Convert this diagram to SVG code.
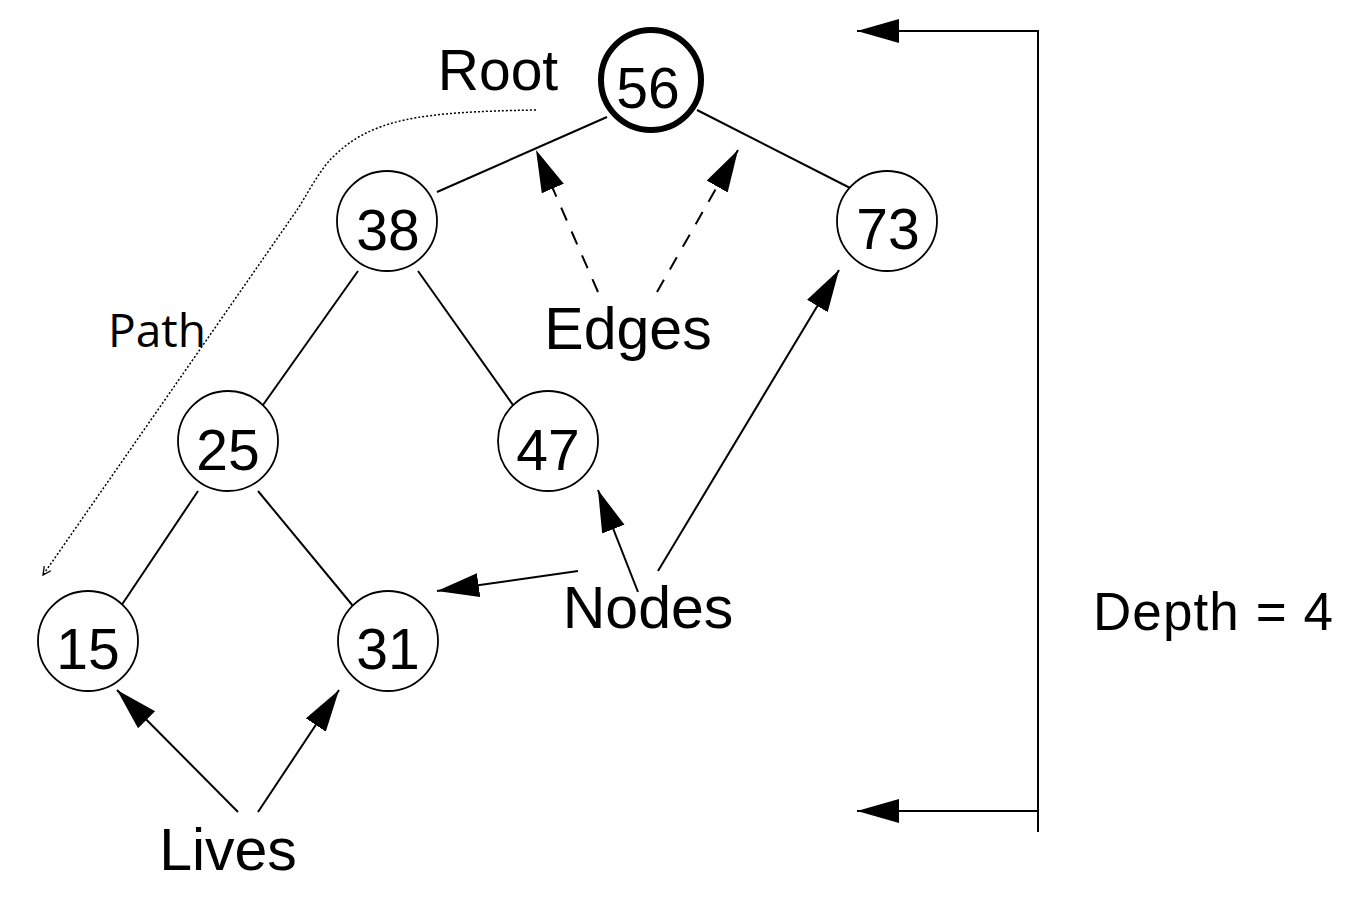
<svg xmlns="http://www.w3.org/2000/svg" width="1359" height="897" viewBox="0 0 1359 897">
<defs>
<style>
.n{fill:#fff;stroke:#000;stroke-width:1.8}
.root{fill:#fff;stroke:#000;stroke-width:6}
.t{font-family:"Liberation Sans",Arial,sans-serif;font-size:57px;fill:#000;text-anchor:middle}
.l{font-size:59px}
.e{stroke:#000;stroke-width:2;fill:none}
.a{stroke:#000;stroke-width:2;fill:none;marker-end:url(#ah)}
.d{stroke:#000;stroke-width:2;fill:none;stroke-dasharray:14 12;marker-end:url(#ah)}
.p{stroke:#000;stroke-width:1.5;fill:none;stroke-dasharray:2 2;marker-end:url(#sm)}
</style>
<marker id="ah" markerUnits="userSpaceOnUse" markerWidth="44" markerHeight="26" refX="42" refY="12" orient="auto" viewBox="0 0 44 26">
<path d="M0,0 L42,12 L0,24 z" fill="#000"/>
</marker>
<marker id="sm" markerUnits="userSpaceOnUse" markerWidth="12" markerHeight="12" refX="9" refY="5" orient="auto" viewBox="0 0 12 12">
<path d="M1,1 L9,5 L1,9" fill="none" stroke="#000" stroke-width="1.3"/>
</marker>
</defs>
<rect width="1359" height="897" fill="#fff"/>
<g id="connectors">
<line class="e" x1="607" y1="117" x2="437" y2="192"/>
<line class="e" x1="697" y1="110" x2="858" y2="192"/>
<line class="e" x1="358" y1="271" x2="258" y2="412"/>
<line class="e" x1="418" y1="271" x2="518" y2="412"/>
<line class="e" x1="198" y1="491" x2="117" y2="612"/>
<line class="e" x1="258" y1="491" x2="358" y2="612"/>
<line class="d" x1="598" y1="292" x2="536" y2="150"/>
<line class="d" x1="657" y1="292" x2="738" y2="150"/>
<line class="a" x1="578" y1="571" x2="437" y2="591"/>
<line class="a" x1="638" y1="592" x2="598" y2="490"/>
<line class="a" x1="658" y1="571" x2="839" y2="270"/>
<line class="a" x1="238" y1="812" x2="117" y2="690"/>
<line class="a" x1="258" y1="812" x2="339" y2="690"/>
<polyline class="a" points="1038,832 1038,31 857,31"/>
<line class="a" x1="1038" y1="811" x2="857" y2="811"/>
<path class="p" d="M536,110 C420,112 370,118 330,160 C318,173 305,198 297,210 L43,575"/>
</g>
<g id="node-56"><circle class="root" cx="651" cy="80" r="50"/><text class="t" x="648" y="108">56</text></g>
<g id="node-38"><circle class="n" cx="387" cy="221" r="50"/><text class="t" x="388" y="250">38</text></g>
<g id="node-73"><circle class="n" cx="887" cy="221" r="50"/><text class="t" x="888" y="249">73</text></g>
<g id="node-25"><circle class="n" cx="228" cy="441" r="50"/><text class="t" x="228" y="470">25</text></g>
<g id="node-47"><circle class="n" cx="548" cy="441" r="50"/><text class="t" x="548" y="470">47</text></g>
<g id="node-15"><circle class="n" cx="88" cy="641" r="50"/><text class="t" x="88" y="669">15</text></g>
<g id="node-31"><circle class="n" cx="388" cy="641" r="50"/><text class="t" x="388" y="669">31</text></g>
<g id="labels">
<text class="t" x="498" y="90">Root</text>
<text class="t l" x="628" y="349">Edges</text>
<text class="t l" x="648" y="628">Nodes</text>
<text class="t l" x="228" y="870">Lives</text>
<text x="1093" y="630" font-family="Liberation Sans,Arial,sans-serif" font-size="53" textLength="240" lengthAdjust="spacing">Depth = 4</text>
<text x="108" y="347" font-family="Open Sans,Noto Sans,sans-serif" font-size="46" textLength="98" lengthAdjust="spacingAndGlyphs">Path</text>
</g>
</svg>
